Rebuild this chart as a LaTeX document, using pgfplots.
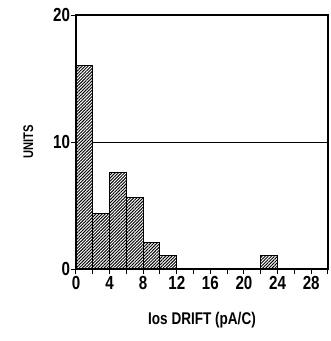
\documentclass[border=0pt]{standalone}
\usepackage{fontspec}
\setmainfont{Liberation Sans}[FakeStretch=0.8]
\usepackage{pgfplots}
\pgfplotsset{compat=1.18}
\usetikzlibrary{patterns.meta}
\begin{document}
\begin{tikzpicture}
\begin{axis}[
  scale only axis,
  width=252bp, height=254bp,
  xmin=0, xmax=30, ymin=0, ymax=20,
  xtick={0,4,...,28},
  minor xtick={2,6,...,30},
  ytick={0,10,20},
  tick align=outside,
  major tick length=5bp,
  minor tick length=5bp,
  xtick pos=bottom, ytick pos=left,
  tick style={line width=1bp, black},
  axis line style={line width=1.3bp},
  /pgf/number format/assume math mode=true,
  ticklabel style={font=\fontsize{19}{20}\selectfont\bfseries},
  xticklabel style={yshift=1.5bp},
  yticklabel style={xshift=2.5bp},
  xlabel={Ios DRIFT (pA/C)},
  ylabel={UNITS},
  xlabel style={font=\fontsize{17}{18}\selectfont\bfseries, yshift=-16bp},
  ylabel style={font=\fontsize{14}{15}\selectfont\bfseries, yshift=13bp},
]
\addplot[black, line width=1bp, no marks] coordinates {(2,10) (30,10)};
\addplot[ybar interval, draw=black, line width=1bp,
  pattern={Lines[angle=45,distance=2.2bp,line width=0.95bp]}]
  coordinates {(0,16) (2,4.35) (4,7.6) (6,5.6) (8,2.1) (10,1.05) (12,1.05)};
\addplot[ybar interval, draw=black, line width=1bp,
  pattern={Lines[angle=45,distance=2.2bp,line width=0.95bp]}]
  coordinates {(22,1.05) (24,1.05)};
\end{axis}
\path (current axis.south west) ++(-76bp,-72bp) coordinate (bl);
\path (current axis.north east) ++(3bp,15bp) coordinate (tr);
\path (bl) rectangle (tr);
\end{tikzpicture}
\end{document}
